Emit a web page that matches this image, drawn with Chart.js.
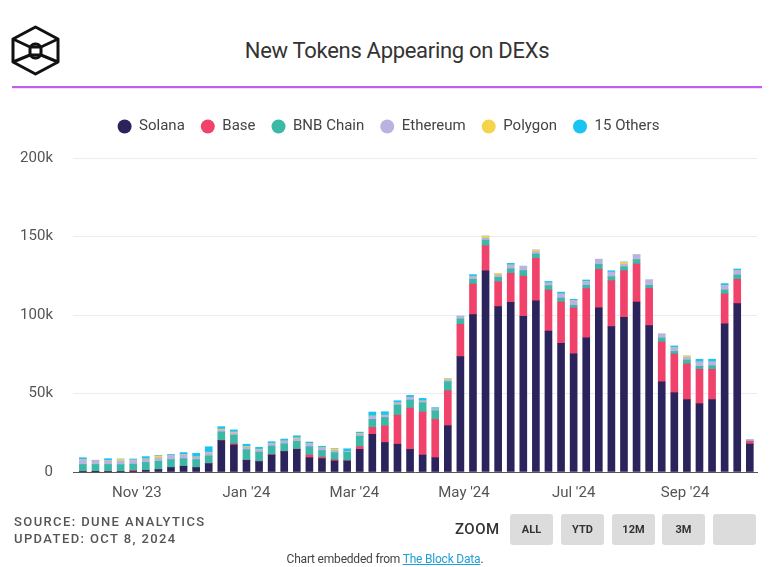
<!DOCTYPE html>
<html>
<head>
<meta charset="utf-8">
<script src="https://cdn.jsdelivr.net/npm/chart.js@4"></script>
<style>
  html, body { margin: 0; padding: 0; background: #fff; }
  body { width: 770px; height: 567px; position: relative; overflow: hidden; font-family: Roboto, "Noto Sans", sans-serif; }
  #logo { position: absolute; left: 11px; top: 25px; }
  #title { position: absolute; left: 0; width: 794px; top: 38px; text-align: center; font-size: 22px; color: #333; letter-spacing: -0.3px; }
  #rule { position: absolute; left: 12px; top: 86px; width: 750px; height: 2px; background: #c45cf0; }
  #rule2 { position: absolute; left: 12px; top: 88px; width: 750px; height: 1px; background: #f1dcfb; }
  #wrap { position: absolute; left: 0; top: 100px; width: 770px; height: 424px; }
  #src { position: absolute; left: 14px; top: 513px; font-size: 13px; font-weight: 500; color: #555; letter-spacing: 1.4px; line-height: 17px; }
  #zoom { position: absolute; left: 455px; top: 520px; font-size: 15px; font-weight: 500; color: #333; letter-spacing: 0.5px; }
  .btn { position: absolute; top: 514px; width: 43px; height: 31px; background: #dcdcdc; border-radius: 3px; font-size: 11px; font-weight: 700; color: #333; text-align: center; line-height: 31px; }
  #embed { position: absolute; left: 0; width: 770px; top: 552px; text-align: center; font-size: 12px; color: #444; letter-spacing: -0.2px; }
  #embed a { color: #1ea0d6; text-decoration: underline; }
</style>
</head>
<body>
<svg id="logo" width="50" height="52" viewBox="0 0 50 52">
  <g fill="none" stroke="#111" stroke-width="3" stroke-linejoin="round">
    <polygon points="24.5,2 47,14 47,37 24.5,49 2,37 2,14"/>
    <polyline points="2,14 19,22 30,22 47,14"/>
    <polyline points="2,37 19,30 30,30 47,37"/>
    <rect x="19" y="19" width="11" height="14" rx="5"/>
  </g>
</svg>
<div id="title">New Tokens Appearing on DEXs</div>
<div id="rule"></div><div id="rule2"></div>
<div id="wrap"><canvas id="c" width="770" height="424"></canvas></div>
<div id="src">SOURCE: DUNE ANALYTICS<br>UPDATED: OCT 8, 2024</div>
<div id="zoom">ZOOM</div>
<div class="btn" style="left:510px">ALL</div>
<div class="btn" style="left:561px">YTD</div>
<div class="btn" style="left:612px">12M</div>
<div class="btn" style="left:662px">3M</div>
<div class="btn" style="left:713px"></div>
<div id="embed">Chart embedded from <a>The Block Data</a>.</div>
<script>
// Week start dates (weekly buckets)
const weeks = [
  '2023-10-02','2023-10-09','2023-10-16','2023-10-23','2023-10-30',
  '2023-11-06','2023-11-13','2023-11-20','2023-11-27',
  '2023-12-04','2023-12-11','2023-12-18','2023-12-25',
  '2024-01-01','2024-01-08','2024-01-15','2024-01-22','2024-01-29',
  '2024-02-05','2024-02-12','2024-02-19','2024-02-26',
  '2024-03-04','2024-03-11','2024-03-18','2024-03-25',
  '2024-04-01','2024-04-08','2024-04-15','2024-04-22','2024-04-29',
  '2024-05-06','2024-05-13','2024-05-20','2024-05-27',
  '2024-06-03','2024-06-10','2024-06-17','2024-06-24',
  '2024-07-01','2024-07-08','2024-07-15','2024-07-22','2024-07-29',
  '2024-08-05','2024-08-12','2024-08-19','2024-08-26',
  '2024-09-02','2024-09-09','2024-09-16','2024-09-23','2024-09-30',
  '2024-10-07'
];
// values in thousands of tokens
const solana = [0.3,0.2,0.3,0.3,0.5,1.0,1.5,2.8,3.6,2.8,5.3,20.0,17.2,7.4,6.6,10.8,13.0,14.4,9.1,8.5,7.0,7.0,14.4,24.0,18.8,17.7,14.4,10.8,9.1,29.5,73.5,100.2,128.2,105.3,108.1,99.2,109.1,89.8,82.0,75.2,85.4,104.5,92.6,98.5,108.3,93.2,57.5,50.5,46.1,43.5,46.1,94.3,107.2,17.8];
const base = [0,0,0,0,0.5,0.1,0.1,0.1,0.1,0.1,0.1,0.2,0.8,0.2,0.2,0.2,0.2,0.2,1.7,1.0,0.8,0.2,1.8,4.4,10.5,18.5,26.3,27.4,24.4,22.3,20.6,19.5,15.9,15.9,18.5,25.5,27.0,26.1,26.3,29.3,31.4,24.6,29.3,29.7,24.2,23.8,25.3,24.6,22.7,21.9,19.3,19.1,15.5,1.7];
const bnbChain = [4.5,4.6,4.5,4.4,4.0,5.0,5.2,5.0,4.8,5.0,4.9,5.3,5.5,6.6,5.9,5.5,4.7,4.9,5.3,4.2,4.5,5.3,6.6,5.1,5.4,6.4,5.1,5.9,5.5,5.7,3.4,3.0,3.6,2.8,2.8,3.6,2.8,2.8,2.5,1.7,2.1,3.2,2.5,2.5,2.8,1.9,2.5,1.7,2.5,1.9,2.3,2.5,2.8,0.3];
const ethereum = [2.8,2.3,2.3,2.3,2.3,2.0,2.2,2.6,2.4,1.6,2.0,1.2,1.4,1.5,1.5,1.6,1.7,1.6,1.8,1.6,1.5,0.3,1.2,2.0,1.3,1.4,1.7,1.1,1.1,1.0,1.6,1.7,1.3,1.5,2.2,2.7,1.5,1.6,2.5,3.0,2.3,3.2,2.8,1.7,3.0,3.4,2.5,2.4,1.7,2.8,2.4,2.8,2.8,0.9];
const polygon = [0.3,0.1,0.2,1.0,0.4,0.3,1.3,0.2,0.2,0.2,0.3,0.6,0.6,0.5,0.3,0.2,0.2,0.6,0.2,0.2,1.0,0.1,0.5,0.2,0.2,0.1,0.1,0.1,0.1,0.7,0.1,0.1,1.2,1.0,0.3,0.1,1.0,0.1,0.1,0.1,0.1,0,0.1,1.3,0,0,0.1,0.1,0.9,0,0,0.1,0.1,0];
const others = [1.2,0.3,1.2,0.3,0.6,1.4,0.3,0.5,1.3,2.2,3.5,1.6,1.3,1.5,1.2,1.0,1.2,1.4,1.0,0.9,0.2,1.9,0.9,2.5,2.2,1.3,1.2,1.6,0.8,0.2,0.1,1.2,0.1,0,1.0,0,0,1.0,1.2,0.7,1.0,0,0.9,0.1,0,0,0,1.0,0,1.7,1.7,1.2,0.9,0];

const seriesNames = ['Solana','Base','BNB Chain','Ethereum','Polygon','15 Others'];
const seriesColors = ['#2b235c','#f0426a','#3cb8a6','#bbb2e2','#f5d44c','#18c4f2'];
const tickDates = ['2023-11-01','2024-01-01','2024-03-01','2024-05-01','2024-07-01','2024-09-01'];
const tickLabels = ["Nov '23","Jan '24","Mar '24","May '24","Jul '24","Sep '24"];
const yTicks = [0,50,100,150,200];

const DAY = 86400000;
const t0 = Date.parse(weeks[0] + 'T00:00:00Z');
const dayOf = s => (Date.parse(s + 'T00:00:00Z') - t0) / DAY;
const xs = weeks.map(dayOf);
const tickDays = tickDates.map(dayOf);

const allSeries = [solana, base, bnbChain, ethereum, polygon, others];
const datasets = allSeries.map((arr, k) => ({
  label: seriesNames[k],
  data: arr.map((v, i) => ({x: xs[i], y: v})),
  backgroundColor: seriesColors[k],
  borderWidth: 0,
  barThickness: 7,
  pointStyle: 'circle'
}));

// extra gap below the legend, and a small horizontal nudge
const legendGap = {
  id: 'legendGap',
  afterInit(chart) {
    const lg = chart.legend;
    const orig = lg.fit;
    lg.fit = function () { orig.call(this); this.height += 14; };
  },
  afterLayout(chart) {
    const lg = chart.legend;
    lg.left += 10; lg.right += 10;
  }
};

const FONT = 'Roboto, "Noto Sans", sans-serif';
new Chart(document.getElementById('c'), {
  type: 'bar',
  data: { datasets },
  plugins: [legendGap],
  options: {
    responsive: false,
    animation: false,
    layout: { padding: { left: 0, right: 13, top: 3, bottom: 10 } },
    plugins: {
      tooltip: { enabled: false },
      legend: {
        position: 'top',
        labels: {
          usePointStyle: true,
          boxHeight: 10,
          pointStyleWidth: 14,
          padding: 16,
          color: '#444',
          font: { family: FONT, size: 15 }
        }
      }
    },
    scales: {
      x: {
        type: 'linear',
        stacked: true,
        offset: false,
        min: -5.5,
        max: 375,
        grid: { display: false, drawTicks: false, offset: false },
        border: { display: true, color: '#555', width: 1 },
        afterBuildTicks: s => { s.ticks = tickDays.map(v => ({ value: v })); },
        ticks: {
          autoSkip: false, maxRotation: 0, padding: 12,
          color: '#555', font: { family: FONT, size: 15 },
          callback: (v, i) => tickLabels[i]
        }
      },
      y: {
        stacked: true,
        min: 0, max: 200,
        afterBuildTicks: s => { s.ticks = yTicks.map(v => ({ value: v })); },
        afterFit: s => { s.width = 73; },
        grid: { color: '#ececec', drawTicks: false },
        border: { display: false },
        ticks: {
          padding: 20, color: '#555', font: { family: FONT, size: 15 },
          callback: v => v === 0 ? '0' : v + 'k'
        }
      }
    }
  }
});
</script>
</body>
</html>
